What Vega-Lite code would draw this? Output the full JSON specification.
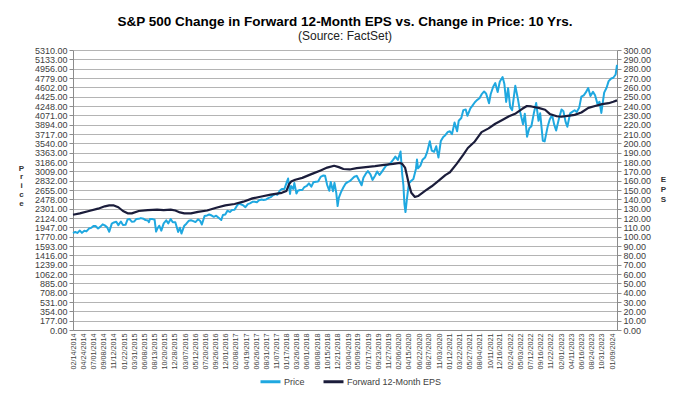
{
  "$schema": "https://vega.github.io/schema/vega-lite/v6.json",
  "width": 544,
  "height": 280,
  "autosize": {"type": "none"},
  "padding": {"left": 73, "top": 50, "right": 67, "bottom": 67},
  "background": "white",
  "config": {
    "font": "Liberation Sans",
    "view": {"stroke": null},
    "axis": {"labelFont": "Liberation Sans", "labelColor": "#404040", "domainColor": "#8c8c8c", "tickColor": "#8c8c8c", "titleFont": "Liberation Sans"}
  },
  "title": {
    "text": "S&P 500 Change in Forward 12-Month EPS vs. Change in Price: 10 Yrs.",
    "subtitle": "(Source: FactSet)",
    "font": "Liberation Sans",
    "fontSize": 13.5,
    "fontWeight": "bold",
    "color": "#000000",
    "subtitleFont": "Liberation Sans",
    "subtitleFontSize": 12,
    "subtitleColor": "#222222",
    "subtitlePadding": 3,
    "anchor": "middle",
    "offset": 4
  },
  "datasets": {
    "price": [
      {"date": "2014-02-14", "price": 1838}, {"date": "2014-03-01", "price": 1859}, {"date": "2014-03-15", "price": 1841},
      {"date": "2014-04-01", "price": 1885}, {"date": "2014-04-15", "price": 1842}, {"date": "2014-05-01", "price": 1883},
      {"date": "2014-05-15", "price": 1870}, {"date": "2014-06-01", "price": 1924}, {"date": "2014-06-15", "price": 1936},
      {"date": "2014-07-01", "price": 1973}, {"date": "2014-07-15", "price": 1973}, {"date": "2014-08-01", "price": 1925},
      {"date": "2014-08-15", "price": 1955}, {"date": "2014-09-01", "price": 2003}, {"date": "2014-09-15", "price": 1984},
      {"date": "2014-10-01", "price": 1946}, {"date": "2014-10-15", "price": 1862}, {"date": "2014-11-01", "price": 2018},
      {"date": "2014-11-15", "price": 2039}, {"date": "2014-12-01", "price": 2053}, {"date": "2014-12-15", "price": 1989},
      {"date": "2015-01-01", "price": 2058}, {"date": "2015-01-15", "price": 1992}, {"date": "2015-02-01", "price": 1995},
      {"date": "2015-02-15", "price": 2096}, {"date": "2015-03-01", "price": 2104}, {"date": "2015-03-15", "price": 2053},
      {"date": "2015-04-01", "price": 2059}, {"date": "2015-04-15", "price": 2106}, {"date": "2015-05-01", "price": 2108},
      {"date": "2015-05-15", "price": 2122}, {"date": "2015-06-01", "price": 2111}, {"date": "2015-06-15", "price": 2084},
      {"date": "2015-07-01", "price": 2077}, {"date": "2015-07-08", "price": 2046}, {"date": "2015-07-15", "price": 2107},
      {"date": "2015-08-01", "price": 2103}, {"date": "2015-08-15", "price": 2091}, {"date": "2015-08-25", "price": 1867},
      {"date": "2015-09-01", "price": 1914}, {"date": "2015-09-15", "price": 1978}, {"date": "2015-09-29", "price": 1884},
      {"date": "2015-10-15", "price": 2023}, {"date": "2015-11-01", "price": 2079}, {"date": "2015-11-15", "price": 2023},
      {"date": "2015-12-01", "price": 2103}, {"date": "2015-12-15", "price": 2043}, {"date": "2016-01-01", "price": 2044},
      {"date": "2016-01-20", "price": 1859}, {"date": "2016-02-01", "price": 1940}, {"date": "2016-02-11", "price": 1829},
      {"date": "2016-03-01", "price": 1978}, {"date": "2016-03-15", "price": 2016}, {"date": "2016-04-01", "price": 2073},
      {"date": "2016-04-15", "price": 2081}, {"date": "2016-05-01", "price": 2065}, {"date": "2016-05-15", "price": 2047},
      {"date": "2016-06-01", "price": 2099}, {"date": "2016-06-15", "price": 2071}, {"date": "2016-06-27", "price": 2001},
      {"date": "2016-07-15", "price": 2162}, {"date": "2016-08-01", "price": 2173}, {"date": "2016-08-15", "price": 2190},
      {"date": "2016-09-01", "price": 2171}, {"date": "2016-09-15", "price": 2147}, {"date": "2016-10-01", "price": 2168},
      {"date": "2016-10-15", "price": 2133}, {"date": "2016-11-04", "price": 2085}, {"date": "2016-11-15", "price": 2180},
      {"date": "2016-12-01", "price": 2191}, {"date": "2016-12-15", "price": 2262}, {"date": "2017-01-01", "price": 2239},
      {"date": "2017-01-15", "price": 2275}, {"date": "2017-02-01", "price": 2279}, {"date": "2017-02-15", "price": 2349},
      {"date": "2017-03-01", "price": 2396}, {"date": "2017-03-15", "price": 2385}, {"date": "2017-04-01", "price": 2363},
      {"date": "2017-04-15", "price": 2329}, {"date": "2017-05-01", "price": 2388}, {"date": "2017-05-15", "price": 2402},
      {"date": "2017-06-01", "price": 2431}, {"date": "2017-06-15", "price": 2433}, {"date": "2017-07-01", "price": 2423},
      {"date": "2017-07-15", "price": 2459}, {"date": "2017-08-01", "price": 2476}, {"date": "2017-08-15", "price": 2465},
      {"date": "2017-09-01", "price": 2476}, {"date": "2017-09-15", "price": 2500}, {"date": "2017-10-01", "price": 2519},
      {"date": "2017-10-15", "price": 2553}, {"date": "2017-11-01", "price": 2579}, {"date": "2017-11-15", "price": 2564},
      {"date": "2017-12-01", "price": 2642}, {"date": "2017-12-15", "price": 2675}, {"date": "2018-01-01", "price": 2674},
      {"date": "2018-01-15", "price": 2786}, {"date": "2018-01-26", "price": 2873}, {"date": "2018-02-08", "price": 2581},
      {"date": "2018-02-15", "price": 2731}, {"date": "2018-03-01", "price": 2677}, {"date": "2018-03-09", "price": 2786},
      {"date": "2018-03-23", "price": 2588}, {"date": "2018-04-01", "price": 2641}, {"date": "2018-04-15", "price": 2656},
      {"date": "2018-05-01", "price": 2655}, {"date": "2018-05-15", "price": 2711}, {"date": "2018-06-01", "price": 2735},
      {"date": "2018-06-15", "price": 2780}, {"date": "2018-07-01", "price": 2718}, {"date": "2018-07-15", "price": 2801},
      {"date": "2018-08-01", "price": 2813}, {"date": "2018-08-15", "price": 2818}, {"date": "2018-09-01", "price": 2902},
      {"date": "2018-09-20", "price": 2931}, {"date": "2018-10-01", "price": 2924}, {"date": "2018-10-15", "price": 2750},
      {"date": "2018-10-29", "price": 2641}, {"date": "2018-11-08", "price": 2806}, {"date": "2018-11-23", "price": 2633},
      {"date": "2018-12-03", "price": 2790}, {"date": "2018-12-15", "price": 2600}, {"date": "2018-12-24", "price": 2351},
      {"date": "2019-01-01", "price": 2507}, {"date": "2019-01-15", "price": 2610}, {"date": "2019-02-01", "price": 2707},
      {"date": "2019-02-15", "price": 2775}, {"date": "2019-03-01", "price": 2804}, {"date": "2019-03-15", "price": 2822},
      {"date": "2019-04-01", "price": 2867}, {"date": "2019-04-15", "price": 2906}, {"date": "2019-05-01", "price": 2924},
      {"date": "2019-05-15", "price": 2850}, {"date": "2019-06-03", "price": 2744}, {"date": "2019-06-15", "price": 2887},
      {"date": "2019-07-01", "price": 2964}, {"date": "2019-07-15", "price": 3014}, {"date": "2019-08-01", "price": 2953},
      {"date": "2019-08-15", "price": 2847}, {"date": "2019-09-01", "price": 2926}, {"date": "2019-09-15", "price": 3007},
      {"date": "2019-10-01", "price": 2940}, {"date": "2019-10-15", "price": 2995}, {"date": "2019-11-01", "price": 3066},
      {"date": "2019-11-15", "price": 3120}, {"date": "2019-12-01", "price": 3140}, {"date": "2019-12-15", "price": 3168},
      {"date": "2020-01-01", "price": 3231}, {"date": "2020-01-15", "price": 3289}, {"date": "2020-02-01", "price": 3225},
      {"date": "2020-02-19", "price": 3386}, {"date": "2020-03-01", "price": 2954}, {"date": "2020-03-09", "price": 2746},
      {"date": "2020-03-16", "price": 2386}, {"date": "2020-03-23", "price": 2237}, {"date": "2020-04-01", "price": 2471},
      {"date": "2020-04-15", "price": 2784}, {"date": "2020-05-01", "price": 2831}, {"date": "2020-05-15", "price": 2864},
      {"date": "2020-06-01", "price": 3055}, {"date": "2020-06-08", "price": 3232}, {"date": "2020-06-15", "price": 3066},
      {"date": "2020-07-01", "price": 3116}, {"date": "2020-07-15", "price": 3227}, {"date": "2020-08-01", "price": 3271},
      {"date": "2020-08-15", "price": 3373}, {"date": "2020-09-02", "price": 3580}, {"date": "2020-09-15", "price": 3401},
      {"date": "2020-10-01", "price": 3380}, {"date": "2020-10-15", "price": 3484}, {"date": "2020-10-30", "price": 3270},
      {"date": "2020-11-15", "price": 3585}, {"date": "2020-12-01", "price": 3662}, {"date": "2020-12-15", "price": 3695},
      {"date": "2021-01-01", "price": 3756}, {"date": "2021-01-15", "price": 3768}, {"date": "2021-01-29", "price": 3714},
      {"date": "2021-02-15", "price": 3934}, {"date": "2021-03-04", "price": 3768}, {"date": "2021-03-15", "price": 3968},
      {"date": "2021-04-01", "price": 4020}, {"date": "2021-04-15", "price": 4170}, {"date": "2021-05-01", "price": 4181},
      {"date": "2021-05-12", "price": 4063}, {"date": "2021-06-01", "price": 4202}, {"date": "2021-06-15", "price": 4255},
      {"date": "2021-07-01", "price": 4320}, {"date": "2021-07-15", "price": 4360}, {"date": "2021-08-01", "price": 4395},
      {"date": "2021-08-15", "price": 4468}, {"date": "2021-09-01", "price": 4524}, {"date": "2021-09-15", "price": 4480},
      {"date": "2021-10-04", "price": 4300}, {"date": "2021-10-15", "price": 4471}, {"date": "2021-11-01", "price": 4614},
      {"date": "2021-11-15", "price": 4682}, {"date": "2021-12-01", "price": 4513}, {"date": "2021-12-15", "price": 4709},
      {"date": "2022-01-03", "price": 4797}, {"date": "2022-01-15", "price": 4663}, {"date": "2022-01-27", "price": 4326},
      {"date": "2022-02-09", "price": 4587}, {"date": "2022-02-23", "price": 4225}, {"date": "2022-03-08", "price": 4170},
      {"date": "2022-03-29", "price": 4631}, {"date": "2022-04-15", "price": 4392}, {"date": "2022-05-01", "price": 4132},
      {"date": "2022-05-20", "price": 3901}, {"date": "2022-06-01", "price": 4101}, {"date": "2022-06-16", "price": 3667},
      {"date": "2022-07-01", "price": 3825}, {"date": "2022-07-15", "price": 3863}, {"date": "2022-08-01", "price": 4118},
      {"date": "2022-08-16", "price": 4305}, {"date": "2022-09-01", "price": 3967}, {"date": "2022-09-12", "price": 4110},
      {"date": "2022-09-30", "price": 3586}, {"date": "2022-10-12", "price": 3577}, {"date": "2022-11-01", "price": 3856},
      {"date": "2022-11-15", "price": 3992}, {"date": "2022-12-01", "price": 4077}, {"date": "2022-12-15", "price": 3895},
      {"date": "2022-12-28", "price": 3783}, {"date": "2023-01-15", "price": 3999}, {"date": "2023-02-02", "price": 4180},
      {"date": "2023-02-15", "price": 4147}, {"date": "2023-03-01", "price": 3951}, {"date": "2023-03-13", "price": 3855},
      {"date": "2023-04-01", "price": 4109}, {"date": "2023-04-15", "price": 4137}, {"date": "2023-05-01", "price": 4168},
      {"date": "2023-05-15", "price": 4136}, {"date": "2023-06-01", "price": 4221}, {"date": "2023-06-15", "price": 4425},
      {"date": "2023-07-01", "price": 4450}, {"date": "2023-07-15", "price": 4505}, {"date": "2023-07-31", "price": 4589},
      {"date": "2023-08-15", "price": 4437}, {"date": "2023-09-01", "price": 4516}, {"date": "2023-09-15", "price": 4450},
      {"date": "2023-10-01", "price": 4288}, {"date": "2023-10-15", "price": 4327}, {"date": "2023-10-27", "price": 4117},
      {"date": "2023-11-15", "price": 4502}, {"date": "2023-12-01", "price": 4595}, {"date": "2023-12-15", "price": 4719},
      {"date": "2024-01-01", "price": 4770}, {"date": "2024-01-15", "price": 4784}, {"date": "2024-01-31", "price": 4846},
      {"date": "2024-02-09", "price": 5027}
    ],
    "eps": [
      {"date": "2014-02-14", "eps": 123.5}, {"date": "2014-04-01", "eps": 125}, {"date": "2014-06-01", "eps": 127.5},
      {"date": "2014-08-01", "eps": 130}, {"date": "2014-09-15", "eps": 132.5}, {"date": "2014-10-15", "eps": 133.5},
      {"date": "2014-11-15", "eps": 133.5}, {"date": "2014-12-15", "eps": 131.5}, {"date": "2015-01-15", "eps": 127.5},
      {"date": "2015-02-15", "eps": 125}, {"date": "2015-03-15", "eps": 125}, {"date": "2015-05-01", "eps": 127.5},
      {"date": "2015-07-01", "eps": 128.5}, {"date": "2015-09-01", "eps": 129}, {"date": "2015-10-15", "eps": 128.5},
      {"date": "2015-12-01", "eps": 129}, {"date": "2016-01-01", "eps": 128}, {"date": "2016-02-01", "eps": 126},
      {"date": "2016-03-01", "eps": 125}, {"date": "2016-04-15", "eps": 125}, {"date": "2016-06-01", "eps": 126.5},
      {"date": "2016-08-01", "eps": 128}, {"date": "2016-10-01", "eps": 131}, {"date": "2016-12-01", "eps": 133.5},
      {"date": "2017-02-01", "eps": 135}, {"date": "2017-04-01", "eps": 137.5}, {"date": "2017-06-01", "eps": 141},
      {"date": "2017-08-01", "eps": 143}, {"date": "2017-10-01", "eps": 145}, {"date": "2017-12-15", "eps": 147},
      {"date": "2018-01-15", "eps": 149}, {"date": "2018-02-01", "eps": 156}, {"date": "2018-02-15", "eps": 159},
      {"date": "2018-03-15", "eps": 161}, {"date": "2018-05-01", "eps": 163}, {"date": "2018-07-01", "eps": 167},
      {"date": "2018-09-01", "eps": 171}, {"date": "2018-10-15", "eps": 174}, {"date": "2018-12-01", "eps": 176},
      {"date": "2019-01-01", "eps": 174.5}, {"date": "2019-02-01", "eps": 172.5}, {"date": "2019-03-15", "eps": 172},
      {"date": "2019-05-01", "eps": 173.5}, {"date": "2019-07-01", "eps": 174.5}, {"date": "2019-09-01", "eps": 175.5},
      {"date": "2019-11-01", "eps": 177}, {"date": "2020-01-01", "eps": 178}, {"date": "2020-02-15", "eps": 179},
      {"date": "2020-03-01", "eps": 178}, {"date": "2020-03-20", "eps": 174}, {"date": "2020-04-01", "eps": 166},
      {"date": "2020-04-15", "eps": 156}, {"date": "2020-05-01", "eps": 147}, {"date": "2020-05-25", "eps": 142.5},
      {"date": "2020-06-15", "eps": 143.5}, {"date": "2020-08-01", "eps": 149}, {"date": "2020-09-15", "eps": 154},
      {"date": "2020-11-01", "eps": 160}, {"date": "2020-12-15", "eps": 166}, {"date": "2021-01-15", "eps": 169},
      {"date": "2021-03-01", "eps": 178}, {"date": "2021-04-15", "eps": 188}, {"date": "2021-05-15", "eps": 195},
      {"date": "2021-07-01", "eps": 202}, {"date": "2021-08-15", "eps": 212}, {"date": "2021-10-01", "eps": 216},
      {"date": "2021-11-15", "eps": 221}, {"date": "2022-01-01", "eps": 225}, {"date": "2022-02-15", "eps": 229},
      {"date": "2022-04-01", "eps": 232}, {"date": "2022-05-15", "eps": 237}, {"date": "2022-06-15", "eps": 240},
      {"date": "2022-07-15", "eps": 239.5}, {"date": "2022-09-01", "eps": 238}, {"date": "2022-10-15", "eps": 236},
      {"date": "2022-11-15", "eps": 231.5}, {"date": "2023-01-01", "eps": 229}, {"date": "2023-02-01", "eps": 228.5},
      {"date": "2023-03-15", "eps": 229.5}, {"date": "2023-05-01", "eps": 230.5}, {"date": "2023-06-15", "eps": 233},
      {"date": "2023-08-01", "eps": 238}, {"date": "2023-09-15", "eps": 240}, {"date": "2023-11-01", "eps": 242},
      {"date": "2023-12-15", "eps": 243}, {"date": "2024-01-15", "eps": 244.5}, {"date": "2024-02-09", "eps": 246}
    ]
  },
  "encoding": {
    "x": {
      "field": "date",
      "type": "temporal",
      "scale": {"type": "utc", "domain": [{"year": 2014, "month": 2, "date": 14, "utc": true}, {"year": 2024, "month": 2, "date": 9, "utc": true}]},
      "axis": {
        "title": null,
        "format": "%m/%d/%Y",
        "labelAngle": 270,
        "labelFontSize": 7.2,
        "labelPadding": 3,
        "labelOverlap": false,
        "labelSeparation": 0,
        "labelBound": false,
        "ticks": false,
        "grid": false,
        "values": [
          {"year": 2014, "month": 2, "date": 14, "utc": true}, {"year": 2014, "month": 4, "date": 24, "utc": true},
          {"year": 2014, "month": 7, "date": 1, "utc": true}, {"year": 2014, "month": 9, "date": 8, "utc": true},
          {"year": 2014, "month": 11, "date": 12, "utc": true}, {"year": 2015, "month": 1, "date": 22, "utc": true},
          {"year": 2015, "month": 3, "date": 31, "utc": true}, {"year": 2015, "month": 6, "date": 8, "utc": true},
          {"year": 2015, "month": 8, "date": 13, "utc": true}, {"year": 2015, "month": 10, "date": 20, "utc": true},
          {"year": 2015, "month": 12, "date": 28, "utc": true}, {"year": 2016, "month": 3, "date": 7, "utc": true},
          {"year": 2016, "month": 5, "date": 12, "utc": true}, {"year": 2016, "month": 7, "date": 20, "utc": true},
          {"year": 2016, "month": 9, "date": 26, "utc": true}, {"year": 2016, "month": 12, "date": 1, "utc": true},
          {"year": 2017, "month": 2, "date": 8, "utc": true}, {"year": 2017, "month": 4, "date": 19, "utc": true},
          {"year": 2017, "month": 6, "date": 26, "utc": true}, {"year": 2017, "month": 8, "date": 31, "utc": true},
          {"year": 2017, "month": 11, "date": 7, "utc": true}, {"year": 2018, "month": 1, "date": 17, "utc": true},
          {"year": 2018, "month": 3, "date": 26, "utc": true}, {"year": 2018, "month": 6, "date": 1, "utc": true},
          {"year": 2018, "month": 8, "date": 8, "utc": true}, {"year": 2018, "month": 10, "date": 15, "utc": true},
          {"year": 2018, "month": 12, "date": 21, "utc": true}, {"year": 2019, "month": 3, "date": 4, "utc": true},
          {"year": 2019, "month": 5, "date": 9, "utc": true}, {"year": 2019, "month": 7, "date": 17, "utc": true},
          {"year": 2019, "month": 9, "date": 23, "utc": true}, {"year": 2019, "month": 11, "date": 27, "utc": true},
          {"year": 2020, "month": 2, "date": 6, "utc": true}, {"year": 2020, "month": 4, "date": 15, "utc": true},
          {"year": 2020, "month": 6, "date": 22, "utc": true}, {"year": 2020, "month": 8, "date": 27, "utc": true},
          {"year": 2020, "month": 11, "date": 3, "utc": true}, {"year": 2021, "month": 1, "date": 12, "utc": true},
          {"year": 2021, "month": 3, "date": 22, "utc": true}, {"year": 2021, "month": 5, "date": 27, "utc": true},
          {"year": 2021, "month": 8, "date": 4, "utc": true}, {"year": 2021, "month": 10, "date": 11, "utc": true},
          {"year": 2021, "month": 12, "date": 16, "utc": true}, {"year": 2022, "month": 2, "date": 24, "utc": true},
          {"year": 2022, "month": 5, "date": 3, "utc": true}, {"year": 2022, "month": 7, "date": 12, "utc": true},
          {"year": 2022, "month": 9, "date": 16, "utc": true}, {"year": 2022, "month": 11, "date": 22, "utc": true},
          {"year": 2023, "month": 2, "date": 1, "utc": true}, {"year": 2023, "month": 4, "date": 11, "utc": true},
          {"year": 2023, "month": 6, "date": 16, "utc": true}, {"year": 2023, "month": 8, "date": 24, "utc": true},
          {"year": 2023, "month": 10, "date": 31, "utc": true}, {"year": 2024, "month": 1, "date": 9, "utc": true}
        ]
      }
    }
  },
  "layer": [
    {
      "data": {"name": "price"},
      "mark": {"type": "line", "strokeWidth": 2, "strokeJoin": "round"},
      "encoding": {
        "y": {
          "field": "price",
          "type": "quantitative",
          "scale": {"domain": [0, 5310], "nice": false, "zero": true},
          "axis": {
            "orient": "left",
            "values": [0, 177, 354, 531, 708, 885, 1062, 1239, 1416, 1593, 1770, 1947, 2124, 2301, 2478, 2655, 2832, 3009, 3186, 3363, 3540, 3717, 3894, 4071, 4248, 4425, 4602, 4779, 4956, 5133, 5310],
            "format": ".2f",
            "labelFontSize": 9,
            "labelPadding": 2,
            "tickSize": 4,
            "grid": true,
            "gridColor": "#b4b4b4",
            "gridWidth": 1,
            "title": ["P", "r", "i", "c", "e"],
            "titleAngle": 0,
            "titleFontSize": 8,
            "titleFontWeight": "bold",
            "titleColor": "#333333",
            "titleLineHeight": 8.75,
            "titleAlign": "center",
            "titleBaseline": "top",
            "titleX": -52,
            "titleY": 114
          }
        },
        "color": {
          "datum": "Price",
          "type": "nominal",
          "scale": {"domain": ["Price", "Forward 12-Month EPS"], "range": ["#1fa8e0", "#1b1d3b"]},
          "legend": {
            "orient": "none",
            "legendX": 186,
            "legendY": 320,
            "direction": "horizontal",
            "title": null,
            "symbolType": "stroke",
            "symbolSize": 400,
            "symbolStrokeWidth": 3,
            "labelFont": "Liberation Sans",
            "labelFontSize": 9,
            "labelColor": "#404040",
            "labelOffset": 2,
            "columnPadding": 12
          }
        }
      }
    },
    {
      "data": {"name": "eps"},
      "mark": {"type": "line", "strokeWidth": 2.2, "strokeJoin": "round"},
      "encoding": {
        "y": {
          "field": "eps",
          "type": "quantitative",
          "scale": {"domain": [0, 300], "nice": false, "zero": true},
          "axis": {
            "orient": "right",
            "values": [0, 10, 20, 30, 40, 50, 60, 70, 80, 90, 100, 110, 120, 130, 140, 150, 160, 170, 180, 190, 200, 210, 220, 230, 240, 250, 260, 270, 280, 290, 300],
            "format": ".2f",
            "labelFontSize": 9,
            "labelPadding": 2,
            "tickSize": 4,
            "grid": false,
            "title": ["E", "P", "S"],
            "titleAngle": 0,
            "titleFontSize": 8,
            "titleFontWeight": "bold",
            "titleColor": "#333333",
            "titleLineHeight": 10,
            "titleAlign": "center",
            "titleBaseline": "top",
            "titleX": 46,
            "titleY": 125
          }
        },
        "color": {"datum": "Forward 12-Month EPS", "type": "nominal"}
      }
    }
  ],
  "resolve": {"scale": {"y": "independent"}, "axis": {"y": "independent"}}
}
